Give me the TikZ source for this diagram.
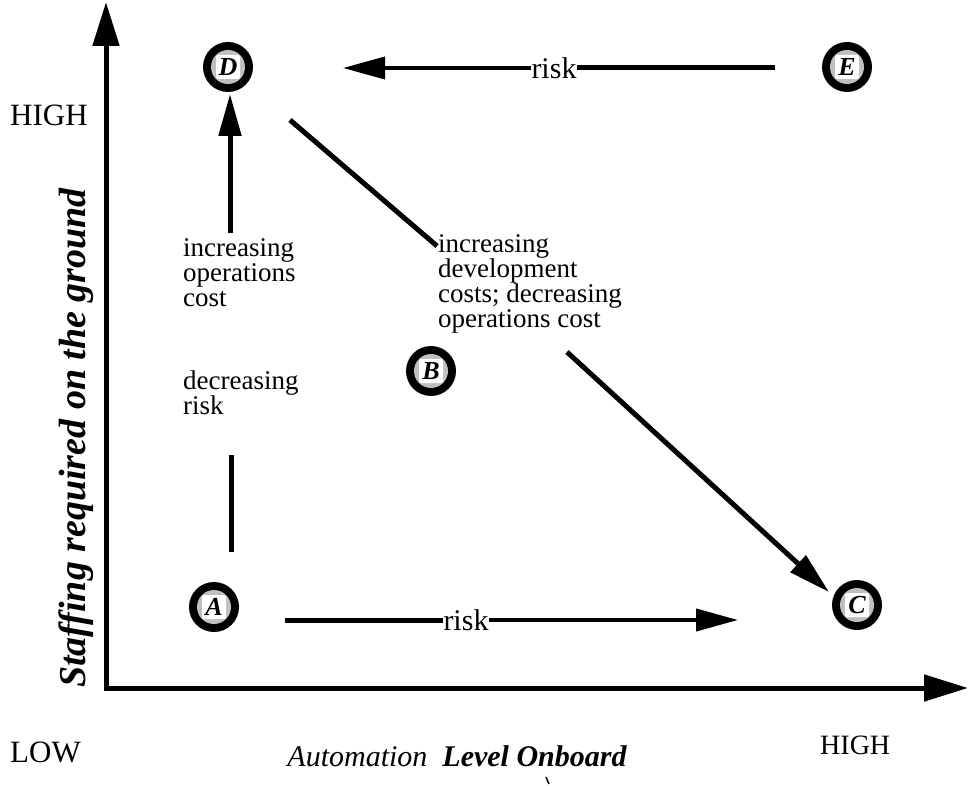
\documentclass[tikz,border=0pt]{standalone}
\usepackage{fontspec}
\setmainfont{Liberation Serif}
\usetikzlibrary{arrows.meta,calc}
\begin{document}
\begin{tikzpicture}[x=1pt,y=-1pt,
  state/.style={circle,fill=black,minimum size=50pt,inner sep=0pt,
    font=\fontsize{26}{26}\selectfont\bfseries\itshape,
    path picture={
      \fill[gray!50] (path picture bounding box.center) circle (17);
      \fill[white,rounded corners=1.5pt] ($(path picture bounding box.center)+(-12,-12)$) rectangle +(24,24);
    }},
  axis/.style={line width=5pt,-{Triangle[length=44pt,width=26pt]}},
  arr/.style={line width=5pt,-{Triangle[length=42pt,width=22pt]}},
  seg/.style={line width=5pt},
  lbl/.style={font=\fontsize{30}{30}\selectfont,inner sep=0pt},
  txt/.style={font=\fontsize{27}{25}\selectfont,align=left,anchor=north west,inner sep=0pt}]
\useasboundingbox (0,0) rectangle (969,786);
% axes
\coordinate (Ytop) at (106,2);
\coordinate (Xend) at (968,688);
\draw[axis] (106,691) -- (Ytop);
\draw[axis] (104,688) -- (Xend);
% axis labels
\node[lbl,anchor=west,font=\fontsize{31}{31}\selectfont] (hiY) at (10,115) {HIGH};
\node[lbl,anchor=west,font=\fontsize{31}{31}\selectfont] (low) at (10,752) {LOW};
\node[lbl,anchor=west,font=\fontsize{28}{28}\selectfont] (hiX) at (820,745) {HIGH};
\node[inner sep=0pt] (xl) at (457,756) {\fontsize{30}{30}\selectfont\itshape Automation\ \ \bfseries Level Onboard};
\node[rotate=90,inner sep=0pt] (yl) at (76,438) {\fontsize{38}{38}\selectfont\bfseries\itshape Staffing required on the ground};
% states
\node[state] (D) at (228,67) {D};
\node[state] (E) at (847,67) {E};
\node[state] (A) at (214,607) {A};
\node[state] (B) at (431,371) {B};
\node[state] (C) at (857,605) {C};
% up arrow A -> D
\coordinate (u1) at (230,233);
\coordinate (u2) at (230,94);
\draw[arr] (u1) -- (u2);
\coordinate (l1) at (231,552);
\coordinate (l2) at (231,455);
\draw[seg] (l1) -- (l2);
\node[txt] (t1) at (183,238) {increasing\\operations\\cost};
\node[txt] (t2) at (183,371) {decreasing\\risk};
% bottom arrow A -> C
\node[lbl] (r1) at (466,620) {risk};
\coordinate (b1) at (285,620);
\coordinate (b2) at (738,620);
\draw[seg] (b1) -- (r1.west);
\draw[arr,line width=4pt] (r1.east) -- (b2);
% top arrow E -> D
\node[lbl] (r2) at (554,68) {risk};
\coordinate (e1) at (775,68);
\coordinate (e2) at (343,68);
\draw[seg] (e1) -- (r2.east);
\draw[arr,line width=4pt] (r2.west) -- (e2);
% diagonal D -> C
\coordinate (d1) at (290,120);
\coordinate (d2) at (437,246);
\draw[seg] (d1) -- (d2);
\node[txt] (t3) at (438,234) {increasing\\development\\costs; decreasing\\operations cost};
\coordinate (d3) at (567,352);
\coordinate (d4) at (829,592);
\draw[arr] (d3) -- (d4);
% stray mark
\draw[line width=1.5pt] (546,777) -- (549,784);
\end{tikzpicture}
\end{document}
